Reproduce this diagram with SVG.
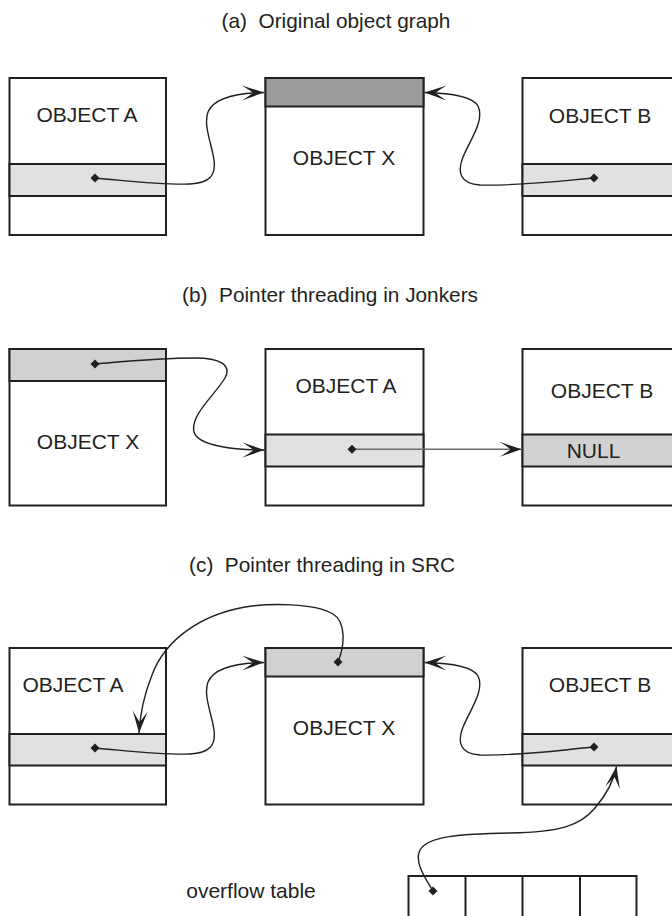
<svg xmlns="http://www.w3.org/2000/svg" width="672" height="916" viewBox="0 0 672 916">
<style>
  .box{fill:#fff;stroke:#231f20;stroke-width:2}
  .band{stroke:#231f20;stroke-width:2}
  .light{fill:#e1e1e3}
  .mid{fill:#d1d1d3}
  .dark{fill:#9c9c9e}
  .lbl{font-family:"Liberation Sans",Arial,sans-serif;font-size:21px;fill:#231f20;text-anchor:middle}
  .ttl{font-family:"Liberation Sans",Arial,sans-serif;font-size:20.8px;fill:#231f20;text-anchor:middle;white-space:pre}
  .wire{fill:none;stroke:#231f20;stroke-width:1.4;marker-start:url(#dot);marker-end:url(#arr)}
  .gwire{fill:none;stroke:#6d6d6f;stroke-width:1.6;marker-start:url(#dot);marker-end:url(#arr)}
</style>
<defs>
  <marker id="arr" viewBox="-23 -9 24 18" markerWidth="24" markerHeight="18" refX="0" refY="0" orient="auto" markerUnits="userSpaceOnUse">
    <path d="M0,0 L-22,-7.5 Q-14,-2.5 -11,0 Q-14,2.5 -22,7.5 Z" fill="#231f20"/>
  </marker>
  <marker id="dot" viewBox="-5 -5 10 10" markerWidth="10" markerHeight="10" refX="0" refY="0" orient="0" markerUnits="userSpaceOnUse">
    <path d="M0,-4.5 L4.5,0 L0,4.5 L-4.5,0 Z" fill="#231f20"/>
  </marker>
</defs>
<rect width="672" height="916" fill="#fff"/>

<!-- (a) -->
<text class="ttl" x="336" y="28" xml:space="preserve">(a)  Original object graph</text>
<g id="a-objA">
  <rect class="box" x="9.5" y="78" width="156.5" height="157"/>
  <rect class="band light" x="9.5" y="164" width="156.5" height="32"/>
  <text class="lbl" x="87" y="122">OBJECT A</text>
</g>
<g id="a-objX">
  <rect class="box" x="265.5" y="78" width="158" height="157"/>
  <rect class="band dark" x="265.5" y="78" width="158" height="28.5"/>
  <text class="lbl" x="344" y="165">OBJECT X</text>
</g>
<g id="a-objB">
  <rect class="box" x="522.5" y="78" width="160" height="157"/>
  <rect class="band light" x="522.5" y="164" width="160" height="32"/>
  <text class="lbl" x="600" y="123">OBJECT B</text>
</g>

<!-- (b) -->
<text class="ttl" x="330" y="302" xml:space="preserve">(b)  Pointer threading in Jonkers</text>
<g id="b-objX">
  <rect class="box" x="9.5" y="349" width="156.5" height="156.5"/>
  <rect class="band mid" x="9.5" y="349" width="156.5" height="32"/>
  <text class="lbl" x="88" y="449">OBJECT X</text>
</g>
<g id="b-objA">
  <rect class="box" x="265.5" y="349" width="158" height="156.5"/>
  <rect class="band light" x="265.5" y="434.5" width="158" height="32"/>
  <text class="lbl" x="346" y="393">OBJECT A</text>
</g>
<g id="b-objB">
  <rect class="box" x="522.5" y="349" width="160" height="156.5"/>
  <rect class="band mid" x="522.5" y="434.5" width="160" height="32"/>
  <text class="lbl" x="602" y="398">OBJECT B</text>
  <text class="lbl" x="593.5" y="458">NULL</text>
</g>

<!-- (c) -->
<text class="ttl" x="322" y="572" xml:space="preserve">(c)  Pointer threading in SRC</text>
<g id="c-objA">
  <rect class="box" x="9.5" y="648" width="156.5" height="156.5"/>
  <rect class="band light" x="9.5" y="734" width="156.5" height="31.5"/>
  <text class="lbl" x="73" y="692">OBJECT A</text>
</g>
<g id="c-objX">
  <rect class="box" x="265.5" y="648" width="158" height="156.5"/>
  <rect class="band mid" x="265.5" y="648" width="158" height="28.5"/>
  <text class="lbl" x="344" y="735">OBJECT X</text>
</g>
<g id="c-objB">
  <rect class="box" x="522.5" y="648" width="160" height="156.5"/>
  <rect class="band light" x="522.5" y="734" width="160" height="31.5"/>
  <text class="lbl" x="600" y="692">OBJECT B</text>
</g>
<g id="overflow">
  <rect class="box" x="408.5" y="876" width="228" height="60"/>
  <line x1="465.5" y1="876" x2="465.5" y2="920" stroke="#231f20" stroke-width="2"/>
  <line x1="522.5" y1="876" x2="522.5" y2="920" stroke="#231f20" stroke-width="2"/>
  <line x1="580" y1="876" x2="580" y2="920" stroke="#231f20" stroke-width="2"/>
  <text class="lbl" x="251" y="898">overflow table</text>
</g>

<g id="connectors">
  <path class="wire" d="M95 178 C130 181,160 185,190 184 C210 183,216 175,214 160 C212 145,203 125,208 112 C214 98,235 93,264 92.5"/>
  <path class="wire" d="M594 178 C560 181,520 186,480 185 C460 184,457 172,463 157 C470 140,485 120,478 106 C472 96,450 93,424.5 92.5"/>
  <path class="wire" d="M95 364 C130 361,160 358,195 358 C220 358,232 365,225 378 C215 395,190 415,194 432 C198 446,235 450,264.5 450"/>
  <path class="gwire" d="M352 449.3 L521.5 449.3"/>
  <path class="wire" d="M95 748 C130 751,160 755,190 754 C210 753,216 745,214 730 C212 715,203 695,208 682 C214 668,235 663,264 662.5"/>
  <path class="wire" d="M594 747 C560 750,520 756,480 755 C460 754,457 742,463 727 C470 710,485 690,478 676 C472 666,450 663,424.5 662.5"/>
  <path class="wire" d="M338 662 C345 645,346 622,333 614 C315 603,270 603,245 607 C200 615,165 640,152 675 C144 695,140 715,139 733"/>
  <path class="wire" d="M433 891 C425 878,414 862,420 850 C428 836,460 834,510 833 C560 832,580 826,595 808 C606 795,614 780,616.5 766.5"/>
</g>
</svg>
